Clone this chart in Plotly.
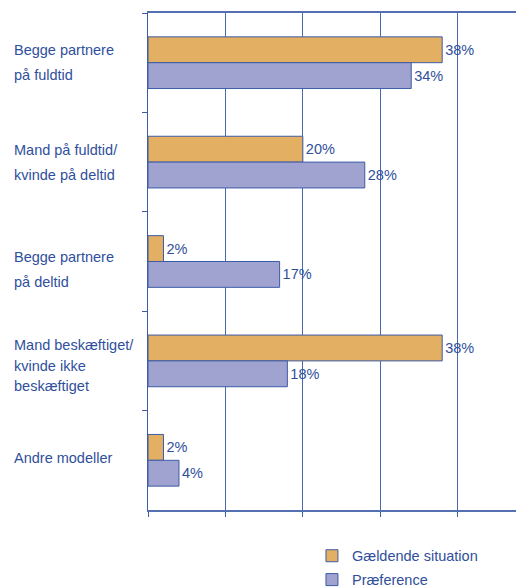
import plotly.graph_objects as go

categories = ["Begge partnere på fuldtid", "Mand på fuldtid/ kvinde på deltid",
              "Begge partnere på deltid", "Mand beskæftiget/ kvinde ikke beskæftiget",
              "Andre modeller"]
label_lines = [["Begge partnere", "på fuldtid"],
               ["Mand på fuldtid/", "kvinde på deltid"],
               ["Begge partnere", "på deltid"],
               ["Mand beskæftiget/", "kvinde ikke", "beskæftiget"],
               ["Andre modeller"]]
current = [38, 20, 2, 38, 2]
preference = [34, 28, 17, 18, 4]
series_names = ["Gældende situation", "Præference"]

BLUE = "#2F4F9C"
OUTLINE = "#3C5CA6"
FONT = "Liberation Sans, Arial, sans-serif"
FS = 14.5

fig = go.Figure()
for k, (name, vals, col) in enumerate([(series_names[0], current, "#E3AF63"),
                                       (series_names[1], preference, "#A0A3CF")]):
    fig.add_trace(go.Bar(
        y=categories, x=vals, name=name, orientation="h", legendgroup=f"g{k}",
        marker=dict(color=col, line=dict(color=OUTLINE, width=1)),
        text=[f"{v}%" for v in vals], textposition="outside",
        textfont=dict(color=BLUE, size=FS, family=FONT),
        cliponaxis=False,
    ))

# multi-line category labels (left aligned, wide line spacing)
shifts = {1: [0], 2: [12.5, -12.5], 3: [16, -5, -25]}
extra = [0, 0, -8, 0, 2]
for i, (cat, lines) in enumerate(zip(categories, label_lines)):
    for j, line in enumerate(lines):
        fig.add_annotation(
            x=0, xref="paper", xanchor="left", xshift=-136,
            y=cat, yref="y", yshift=shifts[len(lines)][j] + extra[i],
            text=line, showarrow=False,
            font=dict(color=BLUE, size=FS, family=FONT),
        )

fig.update_layout(
    width=524, height=587,
    margin=dict(l=140, r=0, t=5, b=85),
    barmode="group", bargap=0.48, bargroupgap=0,
    plot_bgcolor="white", paper_bgcolor="white",
    font=dict(family=FONT, color=BLUE, size=FS),
    showlegend=True,
    legend=dict(x=0.427, y=0.094, xanchor="left", yanchor="top",
                yref="container", tracegroupgap=2,
                font=dict(color=BLUE, size=FS, family=FONT),
                traceorder="grouped", bgcolor="rgba(0,0,0,0)"),
    xaxis=dict(range=[0, 49.6], dtick=10, tick0=0, showticklabels=False,
               showgrid=True, gridcolor="#4A68AD", gridwidth=1,
               zeroline=False, showline=True, linecolor="#5570B0", linewidth=1.5,
               mirror=True, ticks="outside", ticklen=5, tickcolor="#3C5CA6"),
    yaxis=dict(autorange="reversed", showticklabels=False, showgrid=False,
               zeroline=False, showline=True, linecolor="#3C5CA6", linewidth=1,
               ticks="outside", ticklen=5, tickcolor="#3C5CA6",
               tickson="boundaries"),
)

fig.write_html("out.html")
